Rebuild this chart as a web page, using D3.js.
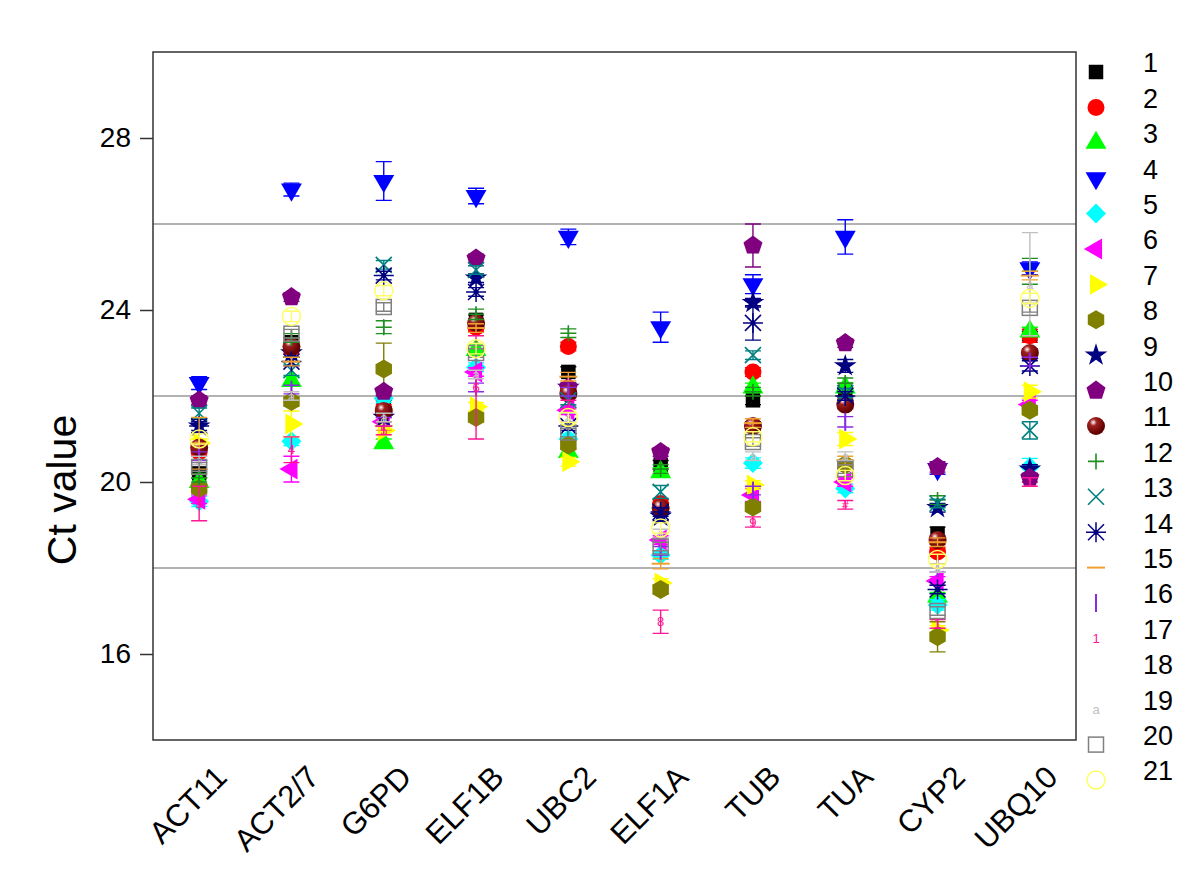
<!DOCTYPE html>
<html>
<head>
<meta charset="utf-8">
<script src="https://cdn.jsdelivr.net/npm/d3@7"></script>
<style>
body { margin: 0; background: #fff; }
text { font-family: "Liberation Sans", Arial, sans-serif; }
</style>
</head>
<body>
<svg id="chart"></svg>
<script>
// genes on the x axis
var genes = ["ACT11", "ACT2/7", "G6PD", "ELF1B", "UBC2", "ELF1A", "TUB", "TUA", "CYP2", "UBQ10"]
var sampleNames = ["1","2","3","4","5","6","7","8","9","10","11","12","13","14","15","16","17","18","19","20","21"]
var yTicks = [16, 20, 24, 28]
var refLines = [18, 22, 26]
// glyphs used by sample 17 in each gene column
var glyph17 = ["3", "4", "5", "6", "7", "8", "9", "#", "1", "1"]

// mean Ct per sample (rows) and gene (columns)
var ct1  = [20.2, 23.25, 21.8, 23.77, 22.56, 20.4, 21.9, 22.1, 18.8, 23.4]
var ct2  = [20.7, 23.1, 21.7, 23.6, 23.15, 19.5, 22.56, 21.85, 18.37, 23.4]
var ct3  = [20.0, 22.35, 20.9, 23.07, 20.7, 20.23, 22.2, 22.2, 17.33, 23.5]
var ct4  = [22.3, 26.8, 27.0, 26.65, 25.7, 23.6, 24.6, 25.7, 20.3, 24.97]
var ct5  = [19.55, 20.95, 21.95, 22.67, 21.0, 18.3, 20.44, 19.85, 17.14, 20.35]
var ct6  = [19.6, 20.3, 21.4, 22.56, 21.67, 18.65, 19.7, 20.0, 17.7, 21.8]
var ct7  = [20.9, 21.35, 21.2, 21.75, 20.47, 17.65, 19.93, 21.0, 16.56, 22.1]
var ct8  = [19.85, 21.87, 22.63, 21.5, 20.86, 17.5, 19.42, 20.4, 16.4, 21.67]
var ct9  = [21.3, 23.0, 21.5, 24.74, 22.2, 19.2, 24.17, 22.7, 19.4, 20.3]
var ct10 = [21.9, 24.3, 22.1, 25.2, 22.2, 20.7, 25.5, 23.23, 20.35, 20.1]
var ct11 = [20.8, 23.15, 21.65, 23.7, 22.06, 19.4, 21.3, 21.8, 18.65, 23.0]
var ct12 = [20.1, 23.35, 23.6, 23.9, 23.46, 20.3, 22.1, 22.3, 19.58, 24.9]
var ct13 = [21.6, 22.6, 25.05, 24.93, 21.9, 19.77, 22.95, 22.07, 19.5, 21.2]
var ct14 = [21.3, 22.8, 24.8, 24.42, 21.3, 19.3, 23.7, 22.0, 17.5, 22.7]
var ct15 = [20.9, 22.8, 21.3, 23.58, 22.45, 18.1, 21.37, 20.5, 18.6, 24.8]
var ct16 = [20.6, 22.15, 21.4, 22.2, 22.1, 18.4, 19.8, 21.4, 18.0, 22.8]
var ct17 = [19.5, 20.75, 21.2, 22.2, 21.8, 16.75, 19.07, 19.47, 16.7, 20.0]
var ct18 = [20.5, 22.0, 21.5, 22.5, 21.5, 18.8, 20.6, 20.6, 18.0, 22.5]
var ct19 = [20.5, 22.0, 21.5, 22.5, 21.5, 18.8, 20.6, 20.6, 18.0, 24.6]
var ct20 = [20.35, 23.45, 24.07, 23.0, 21.15, 18.5, 20.93, 20.3, 17.0, 24.05]
var ct21 = [21.0, 23.85, 24.45, 23.1, 21.5, 18.93, 21.05, 20.15, 18.2, 24.27]

// error bar half widths
var sd1  = [0.1, 0.1, 0.1, 0.12, 0.12, 0.1, 0.1, 0.1, 0.15, 0.1]
var sd2  = [0.1, 0.1, 0.1, 0.1, 0.1, 0.1, 0.1, 0.1, 0.1, 0.15]
var sd3  = [0.1, 0.1, 0.1, 0.12, 0.1, 0.1, 0.1, 0.1, 0.1, 0.1]
var sd4  = [0.15, 0.15, 0.45, 0.18, 0.18, 0.35, 0.22, 0.4, 0.12, 0.15]
var sd5  = [0.12, 0.1, 0.1, 0.1, 0.12, 0.1, 0.12, 0.1, 0.12, 0.2]
var sd6  = [0.1, 0.3, 0.1, 0.1, 0.1, 0.1, 0.15, 0.1, 0.1, 0.1]
var sd7  = [0.1, 0.3, 0.1, 0.1, 0.1, 0.1, 0.1, 0.15, 0.1, 0.15]
var sd8  = [0.1, 0.1, 0.6, 0.1, 0.1, 0.1, 0.1, 0.1, 0.35, 0.1]
var sd9  = [0.15, 0.1, 0.1, 0.1, 0.1, 0.1, 0.1, 0.15, 0.1, 0.1]
var sd10 = [0.1, 0.1, 0.1, 0.1, 0.1, 0.1, 0.5, 0.1, 0.12, 0.1]
var sd11 = [0.1, 0.1, 0.1, 0.1, 0.1, 0.1, 0.1, 0.1, 0.1, 0.1]
var sd12 = [0.1, 0.1, 0.15, 0.12, 0.1, 0.1, 0.1, 0.12, 0.1, 0.3]
var sd13 = [0.12, 0.12, 0.1, 0.1, 0.1, 0.15, 0.1, 0.1, 0.1, 0.2]
var sd14 = [0.1, 0.1, 0.1, 0.1, 0.1, 0.1, 0.4, 0.1, 0.1, 0.12]
var sd15 = [0.6, 0.1, 0.1, 0.1, 0.1, 0.12, 0.1, 0.1, 0.1, 0.1]
var sd16 = [0.1, 0.1, 0.1, 0.1, 0.1, 0.1, 0.1, 0.12, 0.1, 0.1]
var sd17 = [0.4, 0.3, 0.1, 1.2, 0.1, 0.27, 0.12, 0.1, 0.1, 0.1]
var sd18 = [0.1, 0.1, 0.1, 0.1, 0.1, 0.1, 0.1, 0.1, 0.1, 0.1]
var sd19 = [0.1, 0.1, 0.1, 0.1, 0.1, 0.1, 0.1, 0.1, 0.1, 1.2]
var sd20 = [0.1, 0.1, 0.1, 0.1, 0.1, 0.1, 0.1, 0.1, 0.1, 0.1]
var sd21 = [0.12, 0.12, 0.12, 0.12, 0.12, 0.12, 0.12, 0.12, 0.12, 0.12]

var cts = [ct1,ct2,ct3,ct4,ct5,ct6,ct7,ct8,ct9,ct10,ct11,ct12,ct13,ct14,ct15,ct16,ct17,ct18,ct19,ct20,ct21]
var sds = [sd1,sd2,sd3,sd4,sd5,sd6,sd7,sd8,sd9,sd10,sd11,sd12,sd13,sd14,sd15,sd16,sd17,sd18,sd19,sd20,sd21]

// look of each sample
var colors = ["#000000","#ff0000","#00ff00","#0000ff","#00ffff","#ff00ff","#ffff00","#808000","#000080","#800080",
              "#800000","#1f8f1f","#008080","#000080","#f0a030","#8a2be2","#ff1493","none","#c0c0c0","#808080","#ffff66"]
var shapes = ["square","circle","triUp","triDown","diamond","triLeft","triRight","hexagon","star","pentagon",
              "sphere","plus","cross","asterisk","dash","vbar","char","none","char","hollowSquare","hollowCircle"]

var screen = {width: 1200, height: 889}
var plot = {left: 153, right: 1076, top: 52, bottom: 740}

var svg = d3.select("#chart")
    .attr("width", screen.width)
    .attr("height", screen.height)

svg.append("rect").attr("width", screen.width).attr("height", screen.height).attr("fill", "#fff")

var defs = svg.append("defs")
var grad = defs.append("radialGradient").attr("id", "sphere")
    .attr("cx", "35%").attr("cy", "30%").attr("r", "65%")
grad.append("stop").attr("offset", "0%").attr("stop-color", "#ffffff")
grad.append("stop").attr("offset", "30%").attr("stop-color", "#a02020")
grad.append("stop").attr("offset", "100%").attr("stop-color", "#600000")

var xScale = d3.scaleLinear().domain([0.5, 10.5]).range([plot.left, plot.right])
var yScale = d3.scaleLinear().domain([14, 30]).range([plot.bottom, plot.top])

var polygon = function(n, r, rot)
{
    var pts = d3.range(n).map(function(i) {
        var a = rot + i * 2 * Math.PI / n
        return [r * Math.cos(a), r * Math.sin(a)]
    })
    return d3.line()(pts) + "Z"
}

var drawMarker = function(g, k, gene)
{
    var shape = shapes[k], col = colors[k]
    if (shape == "none") return
    if (shape == "square") g.append("path").attr("d", d3.symbol(d3.symbolSquare, 210)()).attr("fill", col)
    if (shape == "circle") g.append("circle").attr("r", 8.5).attr("fill", col)
    if (shape == "triUp") g.append("path").attr("d", d3.symbol(d3.symbolTriangle, 190)()).attr("fill", col)
    if (shape == "triDown") g.append("path").attr("d", d3.symbol(d3.symbolTriangle, 190)()).attr("fill", col).attr("transform", "rotate(180)")
    if (shape == "triLeft") g.append("path").attr("d", d3.symbol(d3.symbolTriangle, 190)()).attr("fill", col).attr("transform", "rotate(-90)")
    if (shape == "triRight") g.append("path").attr("d", d3.symbol(d3.symbolTriangle, 190)()).attr("fill", col).attr("transform", "rotate(90)")
    if (shape == "diamond") g.append("path").attr("d", polygon(4, 10, -Math.PI / 2)).attr("fill", col)
    if (shape == "hexagon") g.append("path").attr("d", polygon(6, 9.5, -Math.PI / 2)).attr("fill", col)
    if (shape == "pentagon") g.append("path").attr("d", polygon(5, 10, -Math.PI / 2)).attr("fill", col)
    if (shape == "star") g.append("path").attr("d", d3.symbol(d3.symbolStar, 160)()).attr("fill", col)
    if (shape == "sphere") g.append("circle").attr("r", 9).attr("fill", "url(#sphere)")
    if (shape == "plus") g.append("path").attr("d", "M-8,0H8M0,-8V8").attr("stroke", col).attr("stroke-width", 1.6)
    if (shape == "cross") g.append("path").attr("d", "M-8,-8L8,8M-8,8L8,-8").attr("stroke", col).attr("stroke-width", 1.6)
    if (shape == "asterisk")
    {
        g.append("path").attr("d", "M-8,-8L8,8M-8,8L8,-8M0,-10V10M-10,0H10").attr("stroke", col).attr("stroke-width", 1.5)
        g.append("circle").attr("r", 2.5).attr("fill", col)
    }
    if (shape == "dash") g.append("path").attr("d", "M-9,0H9").attr("stroke", col).attr("stroke-width", 2)
    if (shape == "vbar") g.append("path").attr("d", "M0,-9V9").attr("stroke", col).attr("stroke-width", 2)
    if (shape == "char")
    {
        var ch = k == 16 ? (gene == null ? "1" : glyph17[gene]) : "a"
        g.append("text").text(ch).attr("fill", col).attr("text-anchor", "middle")
         .attr("dy", "0.35em").style("font-size", "13px")
    }
    if (shape == "hollowSquare") g.append("rect").attr("x", -7.5).attr("y", -7.5).attr("width", 15).attr("height", 15)
        .attr("fill", "none").attr("stroke", col).attr("stroke-width", 1.5)
    if (shape == "hollowCircle") g.append("circle").attr("r", 9).attr("fill", "none").attr("stroke", col).attr("stroke-width", 1.5)
}

// reference lines
svg.append("g").selectAll("line")
    .data(refLines)
    .enter()
    .append("line")
    .attr("x1", plot.left).attr("x2", plot.right)
    .attr("y1", function(d) { return yScale(d) })
    .attr("y2", function(d) { return yScale(d) })
    .attr("stroke", "#999").attr("stroke-width", 1.5)

// points and error bars
var points = []
cts.forEach(function(row, k) {
    row.forEach(function(v, j) {
        points.push({k: k, gene: j, ct: v, sd: sds[k][j]})
    })
})

var pts = svg.append("g").selectAll("g")
    .data(points.filter(function(d) { return shapes[d.k] != "none" }))
    .enter()
    .append("g")
    .attr("transform", function(d) { return "translate(" + xScale(d.gene + 1) + "," + yScale(d.ct) + ")" })

pts.append("path")
    .attr("d", function(d) {
        var top = yScale(d.ct + d.sd) - yScale(d.ct)
        var bot = yScale(d.ct - d.sd) - yScale(d.ct)
        return "M0," + top + "V" + bot + "M-8," + top + "H8M-8," + bot + "H8"
    })
    .attr("stroke", function(d) { return colors[d.k] })
    .attr("stroke-width", 1.4)
    .attr("fill", "none")

pts.each(function(d) { drawMarker(d3.select(this), d.k, d.gene) })

// frame
svg.append("rect")
    .attr("x", plot.left).attr("y", plot.top)
    .attr("width", plot.right - plot.left).attr("height", plot.bottom - plot.top)
    .attr("fill", "none").attr("stroke", "#333").attr("stroke-width", 1.5)

// y axis
var yAxis = svg.append("g")
    .attr("transform", "translate(" + plot.left + ",0)")
    .call(d3.axisLeft(yScale).tickValues(yTicks).tickSize(13).tickPadding(9))
yAxis.select(".domain").remove()
yAxis.selectAll("line").attr("stroke", "#333").attr("stroke-width", 1.5)
yAxis.selectAll("text").style("font-size", "28px").attr("fill", "#000")
    .style("font-family", "'Liberation Sans', Arial, sans-serif")

svg.append("text")
    .text("Ct value")
    .attr("transform", "translate(76,490) rotate(-90)")
    .attr("text-anchor", "middle")
    .style("font-size", "41px")

// x axis labels
var xAxis = svg.append("g")
    .attr("transform", "translate(0," + plot.bottom + ")")
    .call(d3.axisBottom(xScale).tickValues(d3.range(1, 11)).tickSize(0)
        .tickFormat(function(d) { return genes[d - 1] }))
xAxis.select(".domain").remove()
xAxis.selectAll("text")
    .attr("x", 29).attr("y", 39).attr("dy", 0)
    .attr("text-anchor", "end")
    .attr("transform", "rotate(-45,29,39)")
    .style("font-size", "31px")
    .style("font-family", "'Liberation Sans', Arial, sans-serif")
    .attr("fill", "#000")

// legend
var legend = svg.append("g").selectAll("g")
    .data(sampleNames)
    .enter()
    .append("g")
    .attr("transform", function(d, i) { return "translate(1096," + (72 + i * 35.4) + ")" })

legend.each(function(d, i) { drawMarker(d3.select(this), i, null) })

legend.append("text")
    .text(function(d) { return d })
    .attr("x", 47).attr("y", -9).attr("dy", "0.35em")
    .style("font-size", "27px")
</script>
</body>
</html>
